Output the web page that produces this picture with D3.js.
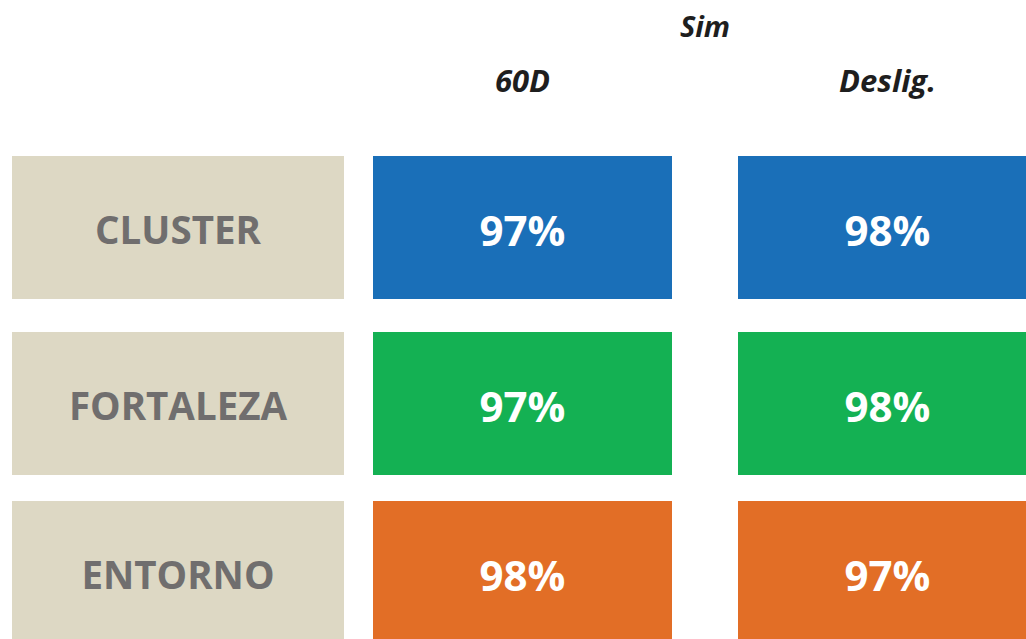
<!DOCTYPE html>
<html>
<head>
<meta charset="utf-8">
<script src="https://cdn.jsdelivr.net/npm/d3@7"></script>
<style>
  body { margin: 0; background: #fff; overflow: hidden; }
  svg { display: block; font-family: "Open Sans", "Noto Sans", sans-serif; }
</style>
</head>
<body>
<div class="chart"></div>
<script>
// data
var rows = ["CLUSTER", "FORTALEZA", "ENTORNO"];
var columns = ["60D", "Deslig."];
var groupLabel = "Sim";
var values60D = [97, 97, 98];
var valuesDeslig = [98, 98, 97];
var rowColors = ["#1a6fb8", "#14b153", "#e26e26"];

var svgWidth = 1026;
var svgHeight = 639;

var svg = d3.select(".chart")
  .append("svg")
  .attr("width", svgWidth)
  .attr("height", svgHeight);

// row tops (gaps between rows are not even in the original)
var yScale = d3.scaleOrdinal()
  .domain(rows)
  .range([156, 332, 501]);
var rowHeight = 143;

// the label column sits left of the two value columns
var labelX = 12, labelW = 332;
var xScale = d3.scaleBand()
  .domain(columns)
  .range([373, 1037])
  .paddingInner(66 / 365);

// build cells
var cells = [];
rows.forEach(function(r, i) {
  cells.push({ row: r, col: columns[0], value: values60D[i], color: rowColors[i] });
  cells.push({ row: r, col: columns[1], value: valuesDeslig[i], color: rowColors[i] });
});

// header texts
var colCenter = function(c) { return xScale(c) + xScale.bandwidth() / 2; };

svg.append("text")
  .attr("x", (colCenter(columns[0]) + colCenter(columns[1])) / 2)
  .attr("y", 37)
  .attr("text-anchor", "middle")
  .style("font-size", "29px")
  .style("font-weight", "bold")
  .style("font-style", "italic")
  .style("fill", "#1e1e1e")
  .text(groupLabel);

svg.selectAll(".col-head")
  .data(columns)
  .enter()
  .append("text")
  .attr("class", "col-head")
  .attr("x", colCenter)
  .attr("y", 92)
  .attr("text-anchor", "middle")
  .style("font-size", "31px")
  .style("font-weight", "bold")
  .style("font-style", "italic")
  .style("fill", "#1e1e1e")
  .text(function(d) { return d; });

// label boxes
svg.selectAll(".label-box")
  .data(rows)
  .enter()
  .append("rect")
  .attr("class", "label-box")
  .attr("x", labelX)
  .attr("y", function(d) { return yScale(d); })
  .attr("width", labelW)
  .attr("height", rowHeight)
  .attr("fill", "#ddd8c4");

svg.selectAll(".label-text")
  .data(rows)
  .enter()
  .append("text")
  .attr("class", "label-text")
  .attr("x", labelX + labelW / 2)
  .attr("y", function(d) { return yScale(d) + rowHeight / 2 + 16; })
  .attr("text-anchor", "middle")
  .style("font-size", "38.5px")
  .style("font-weight", "bold")
  .style("fill", "#706e6e")
  .text(function(d) { return d; });

// value cells
svg.selectAll(".cell")
  .data(cells)
  .enter()
  .append("rect")
  .attr("class", "cell")
  .attr("x", function(d) { return xScale(d.col); })
  .attr("y", function(d) { return yScale(d.row); })
  .attr("width", xScale.bandwidth())
  .attr("height", rowHeight)
  .attr("fill", function(d) { return d.color; });

svg.selectAll(".cell-text")
  .data(cells)
  .enter()
  .append("text")
  .attr("class", "cell-text")
  .attr("x", function(d) { return colCenter(d.col); })
  .attr("y", function(d) { return yScale(d.row) + rowHeight / 2 + 18; })
  .attr("text-anchor", "middle")
  .style("font-size", "42px")
  .style("font-weight", "bold")
  .style("fill", "#ffffff")
  .text(function(d) { return d.value + "%"; });
</script>
</body>
</html>
